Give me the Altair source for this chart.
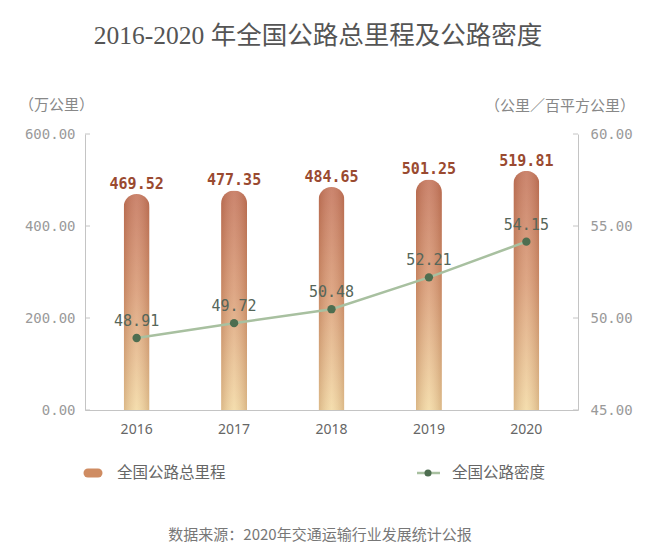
import altair as alt
import pandas as pd

years = ["2016", "2017", "2018", "2019", "2020"]
mileage = [469.52, 477.35, 484.65, 501.25, 519.81]
density = [48.91, 49.72, 50.48, 52.21, 54.15]
left_ticks = [0, 200, 400, 600]
right_ticks = [45, 50, 55, 60]

title_text = "2016-2020 年全国公路总里程及公路密度"
left_unit = "（万公里）"
right_unit = "（公里／百平方公里）"
legend_bar = "全国公路总里程"
legend_line = "全国公路密度"
source_text = "数据来源：2020年交通运输行业发展统计公报"

df = pd.DataFrame({"year": years, "km": mileage, "dens": density})
lt = pd.DataFrame({"v": left_ticks})
rt = pd.DataFrame({"v": right_ticks})
one = pd.DataFrame({"a": [0]})

W, H = 493, 276
MONO = "DejaVu Sans Mono"
SANS = "Noto Sans CJK SC"

xenc = alt.X("year:O", scale=alt.Scale(paddingInner=0, paddingOuter=0.03),
             axis=alt.Axis(title=None, labelAngle=0, ticks=False, domainColor="#c4c4c4",
                           labelColor="#666666", labelFont="Noto Sans", labelFontSize=14,
                           labelPadding=12))

yleft = alt.Y("km:Q", scale=alt.Scale(domain=[0, 600], nice=False),
              axis=alt.Axis(title=None, values=left_ticks, format=".2f", ticks=False,
                            grid=False, domainColor="#c4c4c4", labelColor="#9a9a9a",
                            labelFont=MONO, labelFontSize=14, labelPadding=10))

bar_grad = alt.Gradient(
    gradient="linear",
    stops=[alt.GradientStop(color="#c4745a", offset=0),
           alt.GradientStop(color="#d99a74", offset=0.45),
           alt.GradientStop(color="#f3d9a3", offset=1)],
    x1=0, x2=0, y1=0, y2=1)
shade_grad = alt.Gradient(
    gradient="linear",
    stops=[alt.GradientStop(color="rgba(130,60,30,0.22)", offset=0),
           alt.GradientStop(color="rgba(255,255,255,0.12)", offset=0.5),
           alt.GradientStop(color="rgba(130,60,30,0.22)", offset=1)],
    x1=0, x2=1, y1=0, y2=0)

bars = alt.Chart(df).mark_bar(width=26, color=bar_grad, cornerRadiusTopLeft=13,
                              cornerRadiusTopRight=13).encode(x=xenc, y=yleft)
shade = alt.Chart(df).mark_bar(width=26, color=shade_grad, cornerRadiusTopLeft=13,
                               cornerRadiusTopRight=13).encode(x=xenc, y=alt.Y("km:Q"))
bar_labels = alt.Chart(df).mark_text(dy=-10, font=MONO, fontSize=15, fontWeight=600,
                                     color="#9a4a30").encode(
    x=xenc, y=alt.Y("km:Q"), text=alt.Text("km:Q", format=".2f"))
lticks = alt.Chart(lt).mark_rule(color="#c4c4c4").encode(
    y=alt.Y("v:Q"), x=alt.value(0), x2=alt.value(5))

left = alt.layer(bars, shade, bar_labels, lticks)

yright = alt.Y("dens:Q", scale=alt.Scale(domain=[45, 60], nice=False),
               axis=alt.Axis(title=None, orient="right", values=right_ticks, format=".2f",
                             ticks=False, grid=False, domainColor="#c4c4c4",
                             labelColor="#9a9a9a", labelFont=MONO, labelFontSize=14,
                             labelPadding=12))
line = alt.Chart(df).mark_line(color="#a8c0a0", strokeWidth=2.5).encode(x=xenc, y=yright)
pts = alt.Chart(df).mark_point(filled=True, size=70, color="#4e6e50", opacity=1).encode(
    x=xenc, y=alt.Y("dens:Q"))
dlabels = alt.Chart(df).mark_text(dy=-17, font=MONO, fontSize=15, color="#56665a").encode(
    x=xenc, y=alt.Y("dens:Q"), text=alt.Text("dens:Q", format=".2f"))
rticks = alt.Chart(rt).mark_rule(color="#c4c4c4").encode(
    y=alt.Y("v:Q"), x=alt.value(W - 5), x2=alt.value(W))

right = alt.layer(line, pts, dlabels, rticks)


def txt(s, x, y, size, color, align="left", font=SANS):
    return alt.Chart(one).mark_text(text=s, align=align, baseline="middle", fontSize=size,
                                    color=color, font=font).encode(
        x=alt.value(x), y=alt.value(y))


title = txt(title_text, 233, -98, 25.5, "#555555", align="center",
            font="Liberation Serif, Noto Sans CJK SC")
lunit = txt(left_unit, -66, -29, 15, "#888888")
runit = txt(right_unit, 550, -28, 15, "#888888", align="right")
leg1_icon = alt.Chart(one).mark_rule(color="#cf8c62", strokeWidth=9, strokeCap="round").encode(
    x=alt.value(3), x2=alt.value(13), y=alt.value(339))
leg1_text = txt(legend_bar, 32, 339, 15.5, "#666666")
leg2_line = alt.Chart(one).mark_rule(color="#a8c0a0", strokeWidth=2.5).encode(
    x=alt.value(332), x2=alt.value(355), y=alt.value(339))
leg2_dot = alt.Chart(one).mark_point(filled=True, size=50, color="#4e6e50", opacity=1).encode(
    x=alt.value(343), y=alt.value(339))
leg2_text = txt(legend_line, 367, 339, 15.5, "#666666")
source = txt(source_text, 235, 401, 15, "#777777", align="center")

chart = alt.layer(left, right, title, lunit, runit, leg1_icon, leg1_text, leg2_line, leg2_dot,
                  leg2_text, source).resolve_scale(y="independent").properties(
    width=W, height=H,
    autosize=alt.AutoSizeParams(type="none"),
    padding={"left": 85, "top": 134, "right": 82, "bottom": 147},
    background="white",
).configure_view(stroke=None)

chart.save("out.html", embed_options={"renderer": "svg", "actions": False})
